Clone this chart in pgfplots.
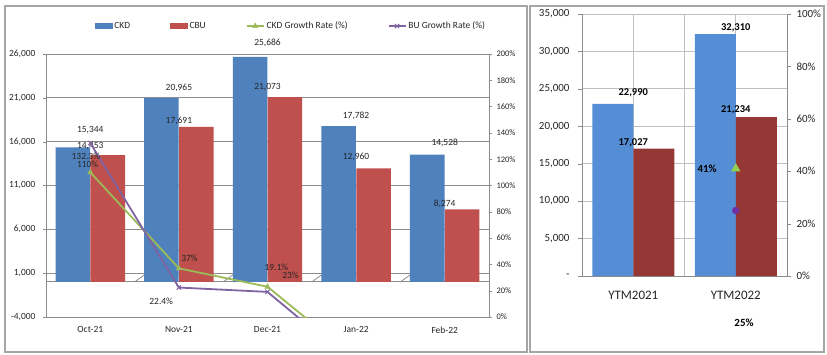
\documentclass[border=0pt]{standalone}
\usepackage{pgfplots}
\usepackage{pgfplotstable}
\pgfplotsset{compat=1.18}
\usepackage{fontspec}
\setmainfont{Carlito}
\definecolor{ckdblue}{HTML}{4F81BD}
\definecolor{cbured}{HTML}{C0504D}
\definecolor{grgreen}{HTML}{9BBB59}
\definecolor{grpurple}{HTML}{8064A2}
\definecolor{ytmblue}{HTML}{558ED5}
\definecolor{ytmred}{HTML}{953735}
\definecolor{mkgreen}{HTML}{92D050}
\definecolor{mkpurple}{HTML}{7030A0}
\definecolor{gridgray}{HTML}{8C8C8C}
\definecolor{lightgrid}{HTML}{BFBFBF}
\definecolor{framegray}{HTML}{A6A6A6}

\pgfplotstableread{
x ckd ckddy cbu cbudy
0 15344 10 14453 2
1 20965 3 17691 -1
2 25686 7 21073 3
3 17782 3 12960 4
4 14528 4 8274 -2
}\monthly

\pgfplotstableread{
x ckdg bug
0 110 132.3
1 37 22.4
2 23 19.1
3 -32 -37
4 -45 -50
}\growth

\pgfplotstableread{
x ckd ckddy cbu cbudy
0 22990 3 17027 -2
1 32310 -1 21234 0
}\ytm

\begin{document}
\begin{tikzpicture}[x=1bp,y=1bp]
\path[use as bounding box] (0,0) rectangle (827,354);
\draw[framegray, line width=1.2bp] (5,2) rectangle (527,348);
\draw[framegray, line width=1.2bp] (530,2) rectangle (824,348);

% ---------------- left chart: bars ----------------
\begin{axis}[
  at={(46bp,37bp)}, anchor=south west, scale only axis,
  width=443bp, height=263bp,
  xmin=-0.5, xmax=4.5, ymin=-4000, ymax=26000,
  clip=false, scaled y ticks=false,
  axis x line*=bottom, axis y line*=left,
  axis line style={gridgray, line width=0.8bp},
  ytick={-4000,1000,6000,11000,16000,21000,26000},
  yticklabels={{-4,000},{1,000},{6,000},{11,000},{16,000},{21,000},{26,000}},
  xtick={0,1,2,3,4},
  xticklabels={Oct-21,Nov-21,Dec-21,Jan-22,Feb-22},
  x tick style={draw=none},
  y tick style={gridgray},
  tick align=outside, major tick length=3bp,
  ymajorgrids, grid style={gridgray, line width=0.9bp},
  tick label style={font=\fontsize{9.5}{11}\selectfont, text=black!85},
  yticklabel style={xshift=-4bp},
  xticklabel style={yshift=-3bp},
  /pgf/number format/.cd, fixed, precision=0, 1000 sep={,}, assume math mode=true,
]
\draw[gridgray, line width=0.9bp] (axis cs:-0.5,0) -- (axis cs:4.5,0);
\pgfplotsinvokeforeach{0.5,1.5,2.5,3.5}{
  \draw[gridgray, line width=0.8bp] (axis cs:#1,0) -- ++(0,-3bp);
}
\addplot[ybar, bar width=0.39, bar shift=-0.197, fill=ckdblue, draw=none,
  nodes near coords,
  visualization depends on={\thisrow{ckddy} \as \labdy},
  every node near coord/.append style={yshift=\labdy bp, font=\fontsize{9.5}{11}\selectfont, text=black!85}]
  table[x=x, y=ckd] {\monthly};
\addplot[ybar, bar width=0.39, bar shift=0.197, fill=cbured, draw=none,
  nodes near coords,
  visualization depends on={\thisrow{cbudy} \as \labdy},
  every node near coord/.append style={yshift=\labdy bp, font=\fontsize{9.5}{11}\selectfont, text=black!85}]
  table[x=x, y=cbu] {\monthly};
\end{axis}

% ---------------- left chart: growth rates ----------------
\begin{axis}[
  at={(46bp,37bp)}, anchor=south west, scale only axis,
  width=443bp, height=263bp,
  xmin=-0.5, xmax=4.5, ymin=0, ymax=200,
  axis x line=none, axis y line*=right,
  axis line style={gridgray, line width=0.8bp},
  ytick={0,20,...,200},
  yticklabel={\pgfmathprintnumber{\tick}\%},
  y tick style={gridgray},
  tick align=outside, major tick length=3bp,
  tick label style={font=\fontsize{8.5}{10}\selectfont, text=black!85},
  yticklabel style={xshift=1bp},
  /pgf/number format/assume math mode=true,
  legend style={at={(0.553,1.106)}, anchor=center, draw=none, fill=none,
    font=\fontsize{9.5}{11}\selectfont, text=black!85,
    legend columns=4,
    /tikz/every even column/.append style={column sep=38bp}},
  legend cell align=left,
]
\addlegendimage{legend image code/.code={\fill[ckdblue] (0bp,-2.5bp) rectangle (17bp,2.5bp);}}
\addlegendentry{CKD}
\addlegendimage{legend image code/.code={\fill[cbured] (0bp,-2.5bp) rectangle (17bp,2.5bp);}}
\addlegendentry{CBU}
\addplot[grgreen, line width=1.8bp, mark=triangle*, mark size=3bp,
  mark options={fill=grgreen, line width=0.5bp}]
  table[x=x, y=ckdg] {\growth};
\addlegendentry{CKD Growth Rate (\%)}
\addplot[grpurple, line width=1.8bp, mark=x, mark size=3bp,
  mark options={line width=1bp}]
  table[x=x, y=bug] {\growth};
\addlegendentry{BU Growth Rate (\%)}
\node[font=\fontsize{9.5}{11}\selectfont, text=black!85] at (axis cs:-0.05,121.9) {132.3\%};
\node[font=\fontsize{9.5}{11}\selectfont, text=black!85] at (axis cs:-0.03,116.3) {110\%};
\node[font=\fontsize{9.5}{11}\selectfont, text=black!85] at (axis cs:1.12,44.3) {37\%};
\node[font=\fontsize{9.5}{11}\selectfont, text=black!85] at (axis cs:0.80,12.2) {22.4\%};
\node[font=\fontsize{9.5}{11}\selectfont, text=black!85] at (axis cs:2.10,37.5) {19.1\%};
\node[font=\fontsize{9.5}{11}\selectfont, text=black!85] at (axis cs:2.26,31.4) {23\%};
\end{axis}

% ---------------- right chart: bars ----------------
\begin{axis}[
  at={(582bp,78bp)}, anchor=south west, scale only axis,
  width=205bp, height=262bp,
  xmin=-0.5, xmax=1.5, ymin=0, ymax=35000,
  clip=false, scaled y ticks=false,
  axis x line*=bottom, axis y line*=left,
  axis line style={gridgray, line width=0.8bp},
  ytick={0,5000,...,35000},
  yticklabels={{-\hspace{4bp}},{5,000},{10,000},{15,000},{20,000},{25,000},{30,000},{35,000}},
  xtick={0,1},
  xticklabels={YTM2021,YTM2022},
  extra x ticks={-0.5,0.5,1.5},
  extra x tick labels={},
  extra x tick style={grid=none, tick style={gridgray}},
  x tick style={draw=none},
  y tick style={gridgray},
  tick align=outside, major tick length=4bp,
  ymajorgrids, xmajorgrids, grid style={lightgrid, line width=0.9bp},
  yticklabel style={font=\fontsize{11}{13}\selectfont, text=black!85, xshift=-5bp},
  xticklabel style={font=\fontsize{13}{15}\selectfont, text=black!85, yshift=-8bp},
  /pgf/number format/.cd, fixed, precision=0, 1000 sep={,}, assume math mode=true,
]
\draw[lightgrid, line width=0.9bp] (axis cs:0.5,0) -- (axis cs:0.5,35000);
\addplot[ybar, bar width=0.4, bar shift=-0.2, fill=ytmblue, draw=none,
  nodes near coords,
  visualization depends on={\thisrow{ckddy} \as \labdy},
  every node near coord/.append style={yshift=\labdy bp, font=\bfseries\fontsize{10.5}{12}\selectfont, text=black}]
  table[x=x, y=ckd] {\ytm};
\addplot[ybar, bar width=0.4, bar shift=0.2, fill=ytmred, draw=none,
  nodes near coords,
  visualization depends on={\thisrow{cbudy} \as \labdy},
  every node near coord/.append style={yshift=\labdy bp, font=\bfseries\fontsize{10.5}{12}\selectfont, text=black}]
  table[x=x, y=cbu] {\ytm};
\end{axis}

% ---------------- right chart: growth markers ----------------
\begin{axis}[
  at={(582bp,78bp)}, anchor=south west, scale only axis,
  width=205bp, height=262bp,
  xmin=-0.5, xmax=1.5, ymin=0, ymax=100,
  axis x line=none, axis y line*=right,
  axis line style={gridgray, line width=0.8bp},
  ytick={0,20,...,100},
  yticklabel={\pgfmathprintnumber{\tick}\%},
  y tick style={gridgray},
  tick align=outside, major tick length=4bp,
  yticklabel style={font=\fontsize{11}{13}\selectfont, text=black!85, xshift=2bp},
  /pgf/number format/assume math mode=true,
]
\addplot[only marks, mark=triangle*, mark size=5bp, color=mkgreen] coordinates {(1,41)};
\addplot[only marks, mark=*, mark size=3.5bp, color=mkpurple] coordinates {(1,25)};
\node[font=\bfseries\fontsize{11}{13}\selectfont, text=black] at (axis cs:0.72,41) {41\%};
\end{axis}
\node[font=\bfseries\fontsize{11}{13}\selectfont, text=black] at (744,31) {25\%};
\end{tikzpicture}
\end{document}
